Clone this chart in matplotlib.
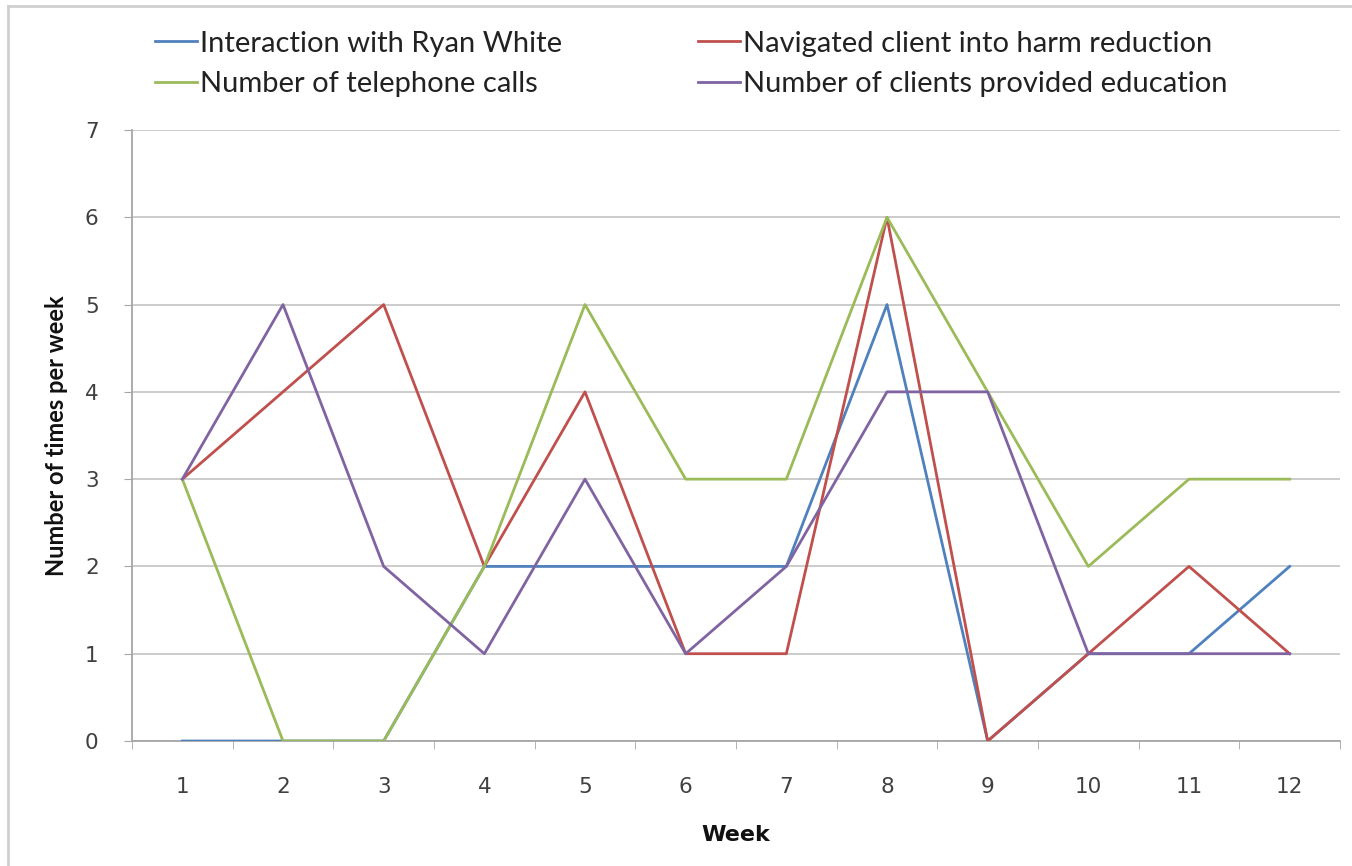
import matplotlib
matplotlib.use("Agg")
import matplotlib.pyplot as plt
from matplotlib.lines import Line2D
import numpy as np

weeks = [1, 2, 3, 4, 5, 6, 7, 8, 9, 10, 11, 12]
ryan_white = [0, 0, 0, 2, 2, 2, 2, 5, 0, 1, 1, 2]
harm_reduction = [3, 4, 5, 2, 4, 1, 1, 6, 0, 1, 2, 1]
phone_calls = [3, 0, 0, 2, 5, 3, 3, 6, 4, 2, 3, 3]
education = [3, 5, 2, 1, 3, 1, 2, 4, 4, 1, 1, 1]
labels = ["Interaction with Ryan White", "Navigated client into harm reduction",
          "Number of telephone calls", "Number of clients provided education"]
colors = ["#4F81BD", "#C0504D", "#9BBB59", "#8064A2"]

fig = plt.figure(figsize=(13.52, 8.66), dpi=100)
ax = fig.add_axes([132/1352, 1 - 741/866, (1340-132)/1352, (741-130)/866])

series = [ryan_white, harm_reduction, phone_calls, education]
handles = []
for i in range(4):
    h, = ax.plot(weeks, series[i], color=colors[i], lw=2.0, label=labels[i],
                 zorder=3 + i)
    handles.append(h)

ax.set_xlim(0.5, 12.5)
ax.set_ylim(0, 7)
ax.set_yticks(range(0, 8))
ax.set_xticks(weeks)
ax.set_xticks(np.arange(0.5, 12.6, 1), minor=True)
ax.tick_params(axis="x", which="major", length=0, pad=26, labelsize=15.5)
ax.tick_params(axis="x", which="minor", length=6, color="#A6A6A6", direction="out")
ax.tick_params(axis="y", which="major", length=6, color="#A6A6A6", pad=18, labelsize=15.5)
for lbl in ax.get_xticklabels() + ax.get_yticklabels():
    lbl.set_color("#404040")
ax.grid(axis="y", color="#C8C8C8", lw=1.3)
ax.set_axisbelow(True)
for s in ["top", "right"]:
    ax.spines[s].set_visible(False)
for s in ["left", "bottom"]:
    ax.spines[s].set_color("#A6A6A6")
    ax.spines[s].set_linewidth(1.3)

ax.set_xlabel("Week", fontsize=16, fontweight="bold", labelpad=20, color="#111111")
ax.set_ylabel("Number of times per week", fontsize=17, fontweight="bold",
              family="Lato", labelpad=12, color="#111111")

leg_order = [0, 2, 1, 3]
fig.legend([handles[i] for i in leg_order], [labels[i] for i in leg_order],
           ncol=2, loc="upper left", bbox_to_anchor=(140/1352, 1 - 16/866),
           frameon=False, prop={"family": "Lato", "size": 21}, borderpad=0,
           handlelength=1.45, handletextpad=0.1, columnspacing=4.65, labelspacing=0.5,
           labelcolor="#222222")

# outer chart border (top and left visible; the rest cropped)
fig.add_artist(Line2D([8/1352, 1], [1 - 6/866, 1 - 6/866], transform=fig.transFigure,
                      color="#D0D0D0", lw=2))
fig.add_artist(Line2D([8/1352, 8/1352], [1 - 6/866, 0], transform=fig.transFigure,
                      color="#D0D0D0", lw=2))

fig.savefig("out.png", dpi=100)
